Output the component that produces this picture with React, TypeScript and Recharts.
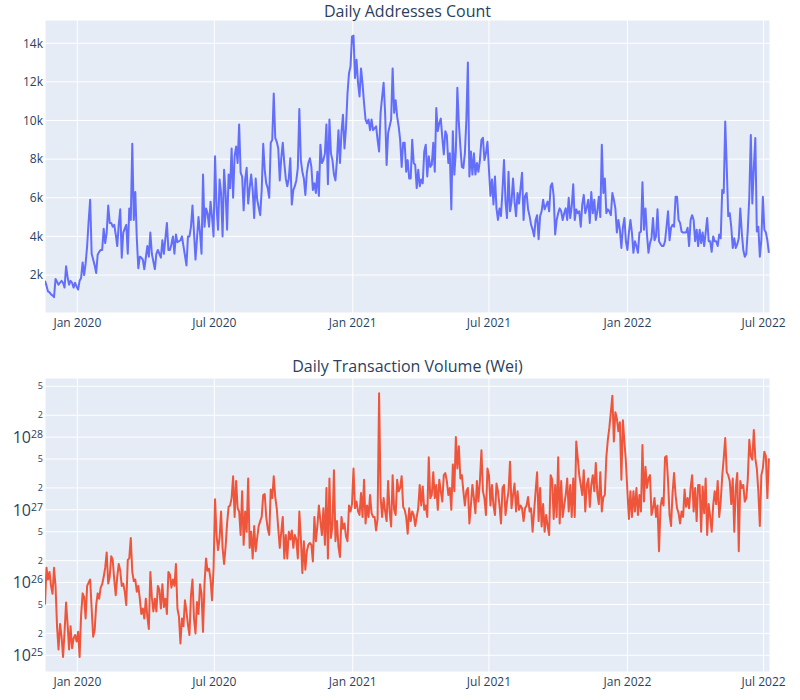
import React from 'react';
import { LineChart, Line, XAxis, YAxis, CartesianGrid } from 'recharts';

const START = Date.UTC(2019, 10, 19);
const END = Date.UTC(2022, 6, 9, 12);
const DAY = 24 * 3600 * 1000;
const STEP_DAYS = 2;

const addressCounts = [
  1700, 1450, 1150, 1100, 1000, 950, 850, 1800, 1650, 1500,
  1600, 1700, 1600, 1350, 2450, 1900, 1500, 1700, 1600, 1350,
  1600, 1400, 1250, 1700, 1850, 2650, 2000, 2600, 3500, 4800,
  5900, 3100, 2800, 2500, 2100, 3050, 3200, 3300, 3300, 4400,
  3650, 4200, 5600, 4700, 4700, 4500, 4600, 4100, 3500, 4600,
  5400, 2900, 4200, 4400, 4600, 3100, 5450, 4850, 8800, 4850,
  6300, 3900, 2350, 2950, 2900, 2800, 2300, 2900, 3500, 2950,
  4200, 3100, 2700, 2300, 3100, 3300, 3100, 2900, 3800, 3100,
  3900, 4700, 3300, 3300, 3600, 4000, 3100, 4100, 3700, 3750,
  3800, 4000, 3500, 3000, 2500, 4000, 4000, 4500, 5600, 4200,
  2800, 3900, 5000, 4200, 3100, 7200, 4500, 5450, 5200, 4500,
  5800, 5000, 4000, 8150, 5500, 4350, 6950, 6250, 4000, 7450,
  6250, 4350, 7200,
  6500, 8550, 6000, 8150, 8650, 7800, 9800,
  7300, 7100, 5350, 6950, 7550, 5700, 6500, 7200, 6400, 4950,
  7000, 5900, 5500, 5100, 6400, 8800, 7450, 6750, 6500, 6000,
  8850, 9000, 11400, 9100, 8900, 8550, 6900, 8050, 8850, 7800,
  7000, 6600, 7000, 8050, 5650, 6400, 6600, 6900, 7550, 10600,
  7950, 7350, 7000, 6150, 7300, 7800, 8050, 7600, 6400, 6750,
  6250, 7350, 6100, 8750, 7800, 7950, 8300, 9800, 6700, 10050,
  8300, 7950, 7200, 6900, 7950, 9500, 7800, 9400, 10300, 8550,
  9600, 11400, 12450, 12800, 14350, 14400, 12200, 13150, 11950, 11250,
  12700, 11900, 10900, 10050, 9850, 10050, 9500, 10050, 9500, 9600,
  9700, 9000, 8400, 10400, 11200, 11950, 10400, 7700, 9350, 9700,
  10050, 12700, 10400, 11050, 10200, 9700, 9000, 7600, 8850, 8850,
  7350, 7950, 7000,
  7000, 9000, 7800, 7700, 6500, 7450, 6600,
  6950, 6750, 8400, 8750, 7100, 8150, 7600, 7700, 8850, 7350,
  10650, 9450, 9850, 10100, 9100, 8250, 9450, 9250, 7800, 8300,
  5400, 9450, 7200, 8400, 11700, 9850, 8650, 7600, 7550, 8300,
  10050, 13000, 7100, 8400, 7200, 8300, 7200, 7800, 7350, 7950,
  9000, 9100, 7950, 8300, 8900, 7450, 6100, 6950, 5650, 7100,
  5450, 4850, 5450, 5050, 6400, 7950, 5800, 4950, 7350, 5300,
  5800, 7000, 5800, 5050, 6250, 5700, 6500, 7300, 4850, 6100,
  6250, 5400, 5050, 4600, 4350, 4000, 4850, 5100, 3850, 5050,
  5300, 5900, 5400, 5600, 5800, 5300, 6600, 6750, 6100, 4100,
  4850, 5200, 5450, 5300, 4850, 5200, 5450, 4850, 6000, 4950,
  5550, 6700, 4850, 5400, 5200, 5300, 4500, 5650, 6150, 5200,
  5500, 5900,
  4700, 6300, 5200, 5900, 4850, 5300, 6050, 5000,
  8750, 6250, 7000, 5200, 5400, 5300, 5100, 6250, 5900, 5450,
  4200, 4850, 4350, 3400, 4450, 4950, 3750, 3300, 4200, 4850,
  4200, 3150, 3750, 3500, 3150, 4200, 4250, 6800, 4350, 5450,
  4100, 3150, 3650, 3900, 4950, 3800, 4000, 5400, 3750, 3600,
  3500, 3500, 3750, 4500, 5300, 3800, 4450, 4600, 4500, 6050,
  6050, 4850, 4700, 4250, 4200, 4200, 4200, 4450, 3500, 4850,
  5100, 4850, 3750, 4350, 3500, 4350, 3650, 4200, 3500, 4200,
  4950, 3750, 3750, 3200, 4000, 3750, 3750, 3500, 4100, 3900,
  6400, 6250, 9950, 7600, 5050, 5200, 4500, 3400, 3900, 3400,
  3600, 3900, 5450, 4200, 3300, 2950, 3100, 4350, 6050, 9250,
  5700, 7550, 9100, 4250, 4500, 2950, 3800, 6050, 4350, 4200,
  3800, 3150,
];

const txVolumeWei = [
  5e25, 1.6e26, 1.1e26, 1.4e26, 9e25, 7e25, 1.6e26, 9e25, 2.5e25, 1.2e25,
  2.7e25, 1.8e25, 9.5e24, 2.1e25, 5.3e25, 2.7e25, 1.2e25, 2.5e25, 1.25e25, 1.7e25,
  1.9e25, 1.55e25, 2.1e25, 9.5e24, 3.6e25, 7.1e25, 6.3e25, 3.2e25, 9e25, 1e26,
  1.1e26, 4.4e25, 1.8e25, 2.2e25, 4.9e25, 7.1e25, 6e25, 8.5e25, 9.5e25, 1.2e26,
  1.6e26, 2.6e26, 9.7e25, 1.2e26, 2.3e26, 2.05e26, 1.1e26, 6.7e25, 1.2e26, 1.8e26,
  1.45e26, 9e25, 9.7e25, 7.5e25, 4.9e25, 2.05e26, 2.15e26, 4.1e26, 1.4e26, 1.05e26,
  1.1e26, 7.5e25, 9e25, 6e25, 3.7e25, 4.4e25, 3.2e25, 6e25, 3.4e25, 2.3e25,
  1.4e26, 6.3e25, 4e25, 6e25, 4e25, 9e25, 8e25, 4.4e25, 9.5e25, 4.6e25,
  6e25, 3.7e25, 1.4e26, 1.3e26, 8.5e25, 1.1e26, 9e25, 1.8e26, 4.4e25, 3.4e25,
  1.45e25, 3.2e25, 2.5e25, 5.7e25, 4e25, 2.6e25, 1.9e25, 6.7e25, 1.1e26, 3.2e25,
  2e25, 5.4e25, 3.7e25, 9.5e25, 7.1e25, 2.1e25, 9.7e25, 2.15e26, 1.45e26, 1.55e26,
  1.1e26, 5.7e25, 1.55e26, 1.4e27, 4.5e26, 2.8e26, 4.1e26, 9.5e26, 3e26, 1.8e26,
  3.1e26, 6.5e26, 1.1e27,
  1.15e27, 1.45e27, 2.9e27, 8e26, 2.5e27, 1.05e27, 9.5e26,
  4.5e26, 1.8e27, 3.3e26, 9.5e26, 5e26, 2.7e27, 3e26, 5e26, 2.15e26, 6e26,
  2.7e26, 4.1e26, 6e26, 7e26, 8e26, 1.6e27, 1.65e27, 8e26, 5.5e26, 4.5e26,
  1.9e27, 1.45e27, 2.9e27, 1.5e27, 1.05e27, 5.5e26, 3e26, 5e26, 8e26, 2.15e26,
  4.5e26, 2.15e26, 5e26, 3.9e26, 5.2e26, 3e26, 4.5e26, 3.9e26, 2.15e26, 9.5e26,
  4.1e26, 1.35e26, 3.7e26, 1.5e26, 2.7e26, 3.3e26, 3.5e26, 3.3e26, 1.95e26, 8e26,
  3.7e26, 6e26, 1.15e27, 7e26, 4.5e26, 1.05e27, 3.3e26, 2e27, 2.15e26, 2.7e27,
  4.1e26, 6e26, 3.5e27, 3.7e26, 7e26, 3.1e26, 2.25e26, 8e26, 5.5e26, 6.5e26,
  4.3e26, 3.7e26, 1.15e27, 9.5e26, 1.2e27, 3.7e27, 1.05e27, 1.3e27, 9.5e26, 8.5e26,
  1.7e27, 8e26, 2.6e27, 6.5e26, 1.15e27, 8e26, 1.6e27, 9e26, 8e26, 8e26,
  5.2e26, 7.5e26, 4e28, 1.5e27, 8e26, 1.45e27, 9.5e26, 7e26, 2.5e27, 9.5e26,
  5.9e26, 3e27, 1e27, 8.5e26, 2.6e27, 1.8e27, 2e27, 2.9e27, 1.1e27, 1e27,
  8e26, 4.7e26, 1.05e27,
  7e26, 9.5e26, 8.5e26, 6e26, 8e26, 1.05e27, 2.2e27,
  1.15e27, 2.1e27, 1e27, 1.15e27, 8e26, 5.3e27, 1.45e27, 1.6e27, 3.3e27, 1.45e27,
  2.2e27, 1e27, 2.6e27, 1.8e27, 1.3e27, 3e27, 3.2e27, 2.5e27, 1.6e27, 2e27,
  1e27, 4.2e27, 1.8e27, 1e28, 3.7e27, 7.5e27, 2.7e27, 3e27, 1.8e27, 1.15e27,
  1.8e27, 2e27, 6.5e26, 1.15e27, 2.2e27, 1.45e27, 9e26, 2.5e27, 1.3e27, 2.5e27,
  6.6e27, 1.8e27, 1.45e27, 8.5e26, 3.7e27, 3e27, 1.15e27, 2.2e27, 1.15e27, 8.5e26,
  2.3e27, 1.8e27, 1.15e27, 6.5e26, 2e27, 2.2e27, 8.5e26, 1.3e27, 1.8e27, 4.6e27,
  1.05e27, 1.6e27, 2.3e27, 9.5e26, 1.8e27, 1e27, 1.15e27, 1.05e27, 7e26, 1.05e27,
  1.15e27, 1.5e27, 9.5e26, 1.05e27, 5e26, 9.5e26, 1.8e27, 3.3e27, 7e26, 2e27,
  5.9e26, 1.2e27, 5e26, 8.5e26, 6e26, 4.5e26, 3e27, 2.6e27, 7.5e26, 2.2e27,
  8e26, 5.3e27, 6.5e26, 2.5e27, 8e26, 1.15e27, 1.6e27, 2.7e27, 9.5e26, 2.2e27,
  8e26, 2.7e27, 8e26, 8.7e27, 5.2e27, 3e27, 2.2e27, 1.6e27, 3.5e27, 9.5e26,
  2.2e27, 2.7e27,
  1.1e27, 2.2e27, 3e27, 1.8e27, 4.4e27, 1.7e27, 1.2e27, 3.3e27,
  9.5e26, 1.5e27, 1.6e27, 5.3e27, 9.2e27, 1.35e28, 2.2e28, 3.7e28, 8.7e27, 2.2e28,
  1.8e28, 1.2e28, 1.6e28, 2.6e27, 1.7e28, 8.7e27, 4.6e27, 1.8e27, 7.5e26, 1.8e27,
  8e26, 1.8e27, 9.5e26, 2e27, 8.5e26, 1.6e27, 9.5e26, 7.8e27, 1.3e27, 3.9e27,
  2e27, 2.7e27, 3e27, 8.5e26, 1.05e27, 1.45e27, 8e26, 1.15e27, 2.7e26, 1.1e27,
  1.45e27, 1.15e27, 5.3e27, 5.5e27, 2.5e27, 8.5e26, 6e26, 1.7e27, 3.2e27, 1.6e27,
  1.05e27, 9e26, 6.5e26, 9.5e26, 8e26, 1.9e27, 1.1e27, 1.45e27, 1.05e27, 2e27,
  3e27, 9.5e26, 2e27, 7e26, 2.2e27, 2.2e27, 5e26, 2.1e27, 9e26, 2.7e27,
  4.5e26, 1.2e27, 8e26, 5e26, 1.15e27, 1.8e27, 1.2e27, 2.5e27, 8e26, 1.3e27,
  2.9e27, 5.1e27, 9.7e27, 3.3e27, 3e27, 2.5e27, 1.2e27, 2.7e27, 5e26, 2e27,
  3.2e27, 2.7e26, 2.5e27, 2e27, 2.2e27, 1.3e27, 1.45e27, 2.7e27, 9.2e27, 5.5e27,
  4.9e27, 1.25e28, 5.1e27, 3.7e27, 1.8e27, 6e26, 3e27, 3.7e27, 6.3e27, 5.5e27,
  1.45e27, 5.1e27,
];

const dateTicks = [
  Date.UTC(2020, 0, 1), Date.UTC(2020, 6, 1), Date.UTC(2021, 0, 1),
  Date.UTC(2021, 6, 1), Date.UTC(2022, 0, 1), Date.UTC(2022, 6, 1),
];
const countTicks = [2000, 4000, 6000, 8000, 10000, 12000, 14000];
const volumeTicks = [
  1e25, 2e25, 5e25, 1e26, 2e26, 5e26, 1e27, 2e27, 5e27, 1e28, 2e28, 5e28,
];

const MONTHS = ['Jan', 'Feb', 'Mar', 'Apr', 'May', 'Jun', 'Jul', 'Aug', 'Sep', 'Oct', 'Nov', 'Dec'];
const FONT = '"Open Sans", verdana, arial, sans-serif';
const TEXT = '#2a3f5f';

const formatDate = (t: number) => {
  const d = new Date(t);
  return `${MONTHS[d.getUTCMonth()]} ${d.getUTCFullYear()}`;
};

const addressRows = addressCounts.map((v, i) => ({ t: START + i * STEP_DAYS * DAY, v }));
const volumeRows = txVolumeWei.map((v, i) => ({ t: START + i * STEP_DAYS * DAY, v }));

// plotly-style log labels: 10^n for decades, small 2 / 5 in between
const LogTick = (props: any) => {
  const { x, y, payload } = props;
  const value: number = payload.value;
  const exp = Math.floor(Math.log10(value) + 1e-6);
  const lead = Math.round(value / Math.pow(10, exp));
  if (lead === 1) {
    return (
      <text x={x} y={y + 5.8} textAnchor="end" fill={TEXT} fontFamily={FONT}>
        <tspan fontSize={16}>10</tspan>
        <tspan fontSize={10.5} dy={-5}>{exp}</tspan>
      </text>
    );
  }
  return (
    <text x={x} y={y} dy="0.35em" textAnchor="end" fill={TEXT} fontFamily={FONT} fontSize={9}>
      {lead}
    </text>
  );
};

const tickStyle = { fill: TEXT, fontSize: 12, fontFamily: FONT };

const titleStyle: React.CSSProperties = {
  position: 'absolute', left: 45, width: 725, textAlign: 'center',
  fontFamily: FONT, fontSize: 16, color: TEXT, lineHeight: '22px',
};

export default function App() {
  return (
    <div style={{ position: 'absolute', left: 0, top: 0, width: 800, height: 700, background: '#fff' }}>
      <div style={{ position: 'absolute', left: 0, top: 0 }}>
        <LineChart width={800} height={340} data={addressRows}
          margin={{ top: 20, right: 30, bottom: 0, left: 0 }}>
          <CartesianGrid stroke="#ffffff" fill="#E5ECF6" fillOpacity={1} />
          <XAxis dataKey="t" type="number" scale="time" domain={[START, END]} ticks={dateTicks}
            tickFormatter={formatDate} height={27} axisLine={false} tickLine={false}
            tickSize={4} tickMargin={1} tick={tickStyle} interval={0} allowDataOverflow />
          <YAxis type="number" domain={[34, 15205]} ticks={countTicks} width={45}
            tickFormatter={(v: number) => `${v / 1000}k`} axisLine={false} tickLine={false}
            tickSize={2} tickMargin={0} tick={tickStyle} interval={0} allowDataOverflow />
          <Line dataKey="v" type="linear" stroke="#636efa" strokeWidth={2} dot={false}
            isAnimationActive={false} strokeLinejoin="round" />
        </LineChart>
      </div>
      <div style={{ ...titleStyle, top: 0 }}>Daily Addresses Count</div>

      <div style={{ position: 'absolute', left: 0, top: 350 }}>
        <LineChart width={800} height={350} data={volumeRows}
          margin={{ top: 28, right: 30, bottom: 0, left: 0 }}>
          <CartesianGrid stroke="#ffffff" fill="#E5ECF6" fillOpacity={1} />
          <XAxis dataKey="t" type="number" scale="time" domain={[START, END]} ticks={dateTicks}
            tickFormatter={formatDate} height={28} axisLine={false} tickLine={false}
            tickSize={4} tickMargin={1} tick={tickStyle} interval={0} allowDataOverflow />
          <YAxis type="number" scale="log" domain={[Math.pow(10, 24.77), Math.pow(10, 28.813)]}
            ticks={volumeTicks} width={45} axisLine={false} tickLine={false}
            tickSize={2} tickMargin={0} tick={<LogTick />} interval={0} allowDataOverflow />
          <Line dataKey="v" type="linear" stroke="#EF553B" strokeWidth={2} dot={false}
            isAnimationActive={false} strokeLinejoin="round" />
        </LineChart>
      </div>
      <div style={{ ...titleStyle, top: 355 }}>Daily Transaction Volume (Wei)</div>
    </div>
  );
}
